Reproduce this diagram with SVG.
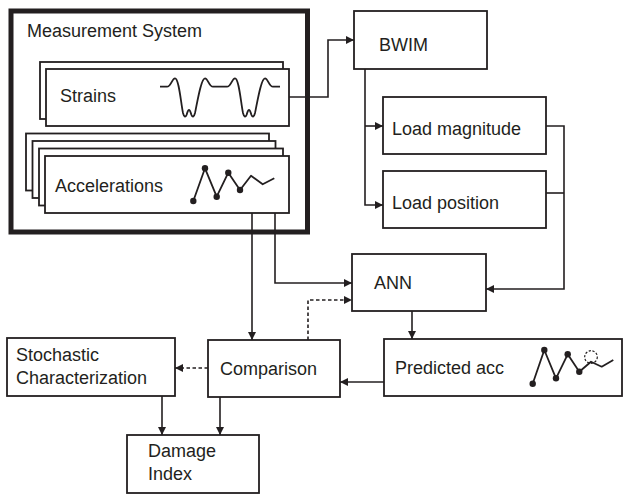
<svg xmlns="http://www.w3.org/2000/svg" width="623" height="494" viewBox="0 0 623 494">
<style>
.box{fill:#fff;stroke:#231f20;stroke-width:1.8}
.t{font-family:"Liberation Sans",Arial,sans-serif;font-size:18px;fill:#231f20}
.c{fill:none;stroke:#231f20;stroke-width:1.6}
.a{marker-end:url(#arr)}
.d{stroke-dasharray:3.5,2.5}
.sig{fill:none;stroke:#231f20;stroke-width:1.8;stroke-linejoin:round}
.dot{fill:#231f20}
</style>
<defs>
<marker id="arr" viewBox="0 0 10 10" refX="10" refY="5" markerWidth="9" markerHeight="8" markerUnits="userSpaceOnUse" orient="auto">
<path d="M0,0 L10,5 L0,10 Z" fill="#231f20"/>
</marker>
</defs>
<rect width="623" height="494" fill="#fff"/>

<g id="measurement-system">
<rect x="11" y="11" width="296.5" height="221" fill="#fff" stroke="#231f20" stroke-width="5"/>
<text class="t" x="27" y="37">Measurement System</text>
</g>

<g id="strains">
<rect class="box" x="40" y="62" width="243" height="57"/>
<rect class="box" x="46" y="69" width="243" height="57"/>
<text class="t" x="60" y="102">Strains</text>
<path class="sig" d="M160,86.7 H167 C171,86.7 172,78.3 175,78.3 C179,78.3 181,104 183,113 C184,117 185.5,117.5 186.5,115 C187.5,112 188,110 189,110 C190,110 190.5,112 191.5,115 C192.5,117.5 194,117 195,113 C197,104 201,78.3 205,78.3 C208,78.3 209,86.7 213,86.7 H227 C231,86.7 232,78.3 235,78.3 C239,78.3 241,104 243,113 C244,117 245.5,117.5 246.5,115 C247.5,112 248,110 249,110 C250,110 250.5,112 251.5,115 C252.5,117.5 254,117 255,113 C257,104 261,78.3 265,78.3 C268,78.3 269,86.7 273,86.7 H280"/>
</g>

<g id="accelerations">
<rect class="box" x="26" y="133.5" width="243" height="57"/>
<rect class="box" x="32.5" y="141" width="243" height="57"/>
<rect class="box" x="39" y="148.5" width="244" height="57"/>
<rect class="box" x="45" y="156" width="244" height="57"/>
<text class="t" x="55" y="192">Accelerations</text>
<polyline class="sig" points="193.3,201 205,168.3 216.7,196.7 228.3,172.7 240,190 251,175.7 262.7,184.3 274.3,178.3"/>
<circle class="dot" cx="193.3" cy="201" r="3.2"/>
<circle class="dot" cx="205" cy="168.3" r="3.2"/>
<circle class="dot" cx="216.7" cy="196.7" r="3.2"/>
<circle class="dot" cx="228.3" cy="172.7" r="3.2"/>
<circle class="dot" cx="240" cy="190" r="3.2"/>
</g>

<g id="bwim">
<rect class="box" x="354" y="11" width="133" height="58"/>
<text class="t" x="379" y="51">BWIM</text>
</g>

<g id="load-magnitude">
<rect class="box" x="383" y="97" width="163" height="57"/>
<text class="t" x="392" y="135">Load magnitude</text>
</g>

<g id="load-position">
<rect class="box" x="383" y="171" width="163" height="57"/>
<text class="t" x="392" y="209">Load position</text>
</g>

<g id="ann">
<rect class="box" x="352" y="254" width="134" height="57"/>
<text class="t" x="374" y="289">ANN</text>
</g>

<g id="predicted-acc">
<rect class="box" x="384" y="339" width="238" height="57"/>
<text class="t" x="395" y="374">Predicted acc</text>
<polyline class="sig" points="532.7,383.7 544.3,350 556,378.3 567.7,354.3 579.3,371.7 591,361.7 601.7,366.7 613.3,360"/>
<circle class="dot" cx="532.7" cy="383.7" r="3.2"/>
<circle class="dot" cx="544.3" cy="350" r="3.2"/>
<circle class="dot" cx="556" cy="378.3" r="3.2"/>
<circle class="dot" cx="567.7" cy="354.3" r="3.2"/>
<circle class="dot" cx="579.3" cy="371.7" r="3.2"/>
<circle cx="591" cy="357" r="6.3" fill="none" stroke="#231f20" stroke-width="1.2" stroke-dasharray="2.2,1.6"/>
</g>

<g id="comparison">
<rect class="box" x="208" y="340" width="132" height="57"/>
<text class="t" x="220" y="375">Comparison</text>
</g>

<g id="stochastic-characterization">
<rect class="box" x="7" y="338" width="168" height="58"/>
<text class="t" x="16" y="361">Stochastic</text>
<text class="t" x="16" y="384">Characterization</text>
</g>

<g id="damage-index">
<rect class="box" x="127" y="435" width="132" height="58"/>
<text class="t" x="148" y="457">Damage</text>
<text class="t" x="148" y="480">Index</text>
</g>

<g id="connectors">
<path class="c a" d="M289,97 H328 V40 H354"/>
<path class="c a" d="M365,69 V205 H383"/>
<path class="c a" d="M365,126 H383"/>
<path class="c a" d="M546,126 H564 V289 H486"/>
<path class="c" d="M546,193 H564"/>
<path class="c a" d="M252,213 V340"/>
<path class="c a" d="M275,213 V283 H352"/>
<path class="c d a" d="M308,340 V300 H352"/>
<path class="c a" d="M412,311 V339"/>
<path class="c a" d="M384,382 H340"/>
<path class="c d a" d="M208,368 H175"/>
<path class="c a" d="M162,396 V435"/>
<path class="c a" d="M220,397 V435"/>
</g>
</svg>
